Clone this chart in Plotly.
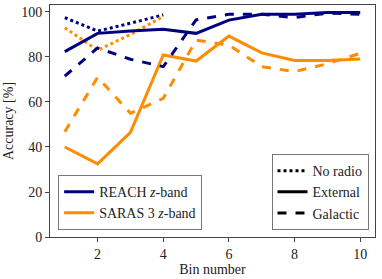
import plotly.graph_objects as go

bins = [1, 2, 3, 4, 5, 6, 7, 8, 9, 10]
bins_noradio = [1, 2, 3, 4]

reach_noradio = [97.5, 91.5, 95.0, 98.7]
saras_noradio = [93.0, 83.0, 90.0, 98.0]

reach_external = [82.4, 90.5, 91.5, 92.3, 90.5, 96.4, 99.0, 99.0, 99.8, 99.8]
saras_external = [40.0, 32.5, 46.5, 80.9, 78.2, 89.3, 81.8, 78.4, 78.4, 79.1]

reach_galactic = [71.5, 84.0, 79.0, 75.7, 96.5, 99.0, 99.0, 97.5, 99.5, 99.0]
saras_galactic = [46.8, 71.0, 55.0, 61.6, 87.5, 85.3, 75.7, 73.5, 77.0, 81.6]

x_ticks = [2, 4, 6, 8, 10]
y_ticks = [0, 20, 40, 60, 80, 100]

NAVY = "#00007f"
ORANGE = "#ff8c00"
LW = 3

fig = go.Figure()

def add(x, y, color, dash, name=None, legend="legend"):
    fig.add_trace(go.Scatter(
        x=x, y=y, mode="lines",
        line=dict(color=color, width=LW, dash=dash),
        name=name if name else "",
        showlegend=name is not None,
        legend=legend,
        hoverinfo="skip",
    ))

add(bins_noradio, reach_noradio, NAVY, "dot")
add(bins_noradio, saras_noradio, ORANGE, "dot")
add(bins, reach_external, NAVY, "solid", "REACH <i>z</i>-band")
add(bins, saras_external, ORANGE, "solid", "SARAS 3 <i>z</i>-band")
add(bins, reach_galactic, NAVY, "dash")
add(bins, saras_galactic, ORANGE, "dash")

for nm, ds in [("No radio", "dot"), ("External", "solid"), ("Galactic", "dash")]:
    fig.add_trace(go.Scatter(
        x=[None], y=[None], mode="lines",
        line=dict(color="black", width=LW, dash=ds),
        name=nm, legend="legend2", showlegend=True,
    ))

FONT = "Liberation Serif"

axis_common = dict(
    showgrid=False, zeroline=False, showline=True, mirror=True,
    linecolor="#444", linewidth=1, ticks="outside", ticklen=4,
    tickcolor="#444", tickfont=dict(size=14, color="#222", family=FONT),
    automargin=False,
)

fig.update_layout(
    width=382, height=279,
    margin=dict(l=50, r=7, t=5, b=42),
    plot_bgcolor="white", paper_bgcolor="white",
    font=dict(family=FONT, size=14, color="#222"),
    xaxis=dict(range=[0.55, 10.45], tickvals=x_ticks,
               title=dict(text="Bin number", standoff=0, font=dict(size=14)),
               **axis_common),
    yaxis=dict(range=[0, 103.1], tickvals=y_ticks,
               title=dict(text="Accuracy [%]", standoff=4, font=dict(size=14)),
               **axis_common),
    legend=dict(x=0.025, y=0.03, xanchor="left", yanchor="bottom",
                bgcolor="white", bordercolor="#777", borderwidth=1,
                font=dict(size=14, family=FONT, color="#222"),
                itemwidth=30, tracegroupgap=0),
    legend2=dict(x=0.98, y=0.03, xanchor="right", yanchor="bottom",
                 bgcolor="white", bordercolor="#777", borderwidth=1,
                 font=dict(size=14, family=FONT, color="#222"),
                 itemwidth=30, tracegroupgap=0),
)

fig.write_html("out.html", config={"displayModeBar": False},
               post_script="document.body.style.margin='0px';")
